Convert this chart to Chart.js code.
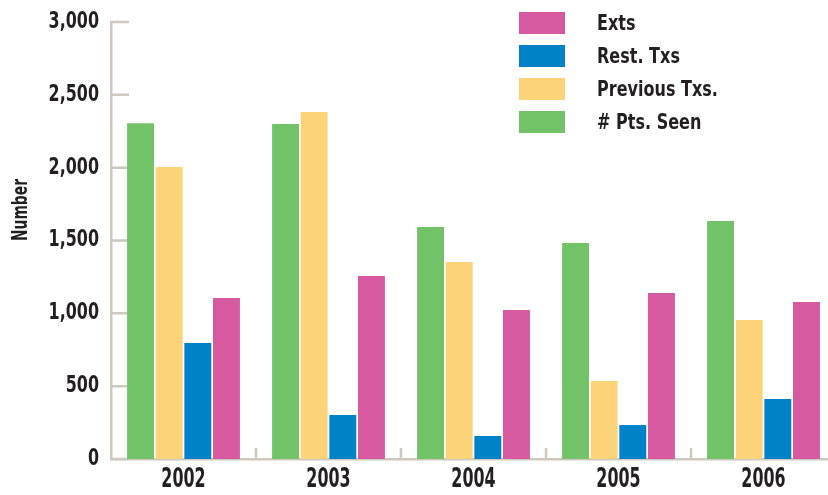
<!DOCTYPE html>
<html>
<head>
<meta charset="utf-8">
<script src="https://cdn.jsdelivr.net/npm/chart.js@4.4.1/dist/chart.umd.min.js"></script>
<style>
  html, body { margin: 0; padding: 0; background: #fff; overflow: hidden; }
  #wrap { width: 836px; height: 495px; }
</style>
</head>
<body>
<div id="wrap"><canvas id="chart" width="836" height="495"></canvas></div>
<script>
// data
const years = ["2002", "2003", "2004", "2005", "2006"];
const ptsSeen = [2305, 2300, 1593, 1483, 1634];
const previousTxs = [2005, 2382, 1352, 535, 954];
const restTxs = [796, 302, 158, 233, 412];
const exts = [1105, 1256, 1023, 1140, 1078];
const yTicks = [0, 500, 1000, 1500, 2000, 2500, 3000];

const FONT = "'DejaVu Sans Condensed', 'DejaVu Sans', sans-serif";
const INK = "#231f20";
const AXIS = "#cdc8c0";

// condensed bold text: squeeze horizontally around the anchor
function narrowText(ctx, text, x, y, size, sx, align) {
  ctx.save();
  ctx.font = "bold " + size + "px " + FONT;
  ctx.fillStyle = INK;
  ctx.textAlign = align;
  ctx.textBaseline = "middle";
  ctx.translate(x, y);
  ctx.scale(sx, 1);
  ctx.fillText(text, 0, 0);
  ctx.restore();
}

// little inward tick marks on both axes
const axisMarks = {
  id: "axisMarks",
  beforeDatasetsDraw(chart) {
    const { ctx, chartArea, scales } = chart;
    ctx.save();
    ctx.strokeStyle = AXIS;
    ctx.lineWidth = 2.5;
    ctx.beginPath();
    yTicks.forEach(v => {
      const y = scales.y.getPixelForValue(v);
      ctx.moveTo(chartArea.left, y);
      ctx.lineTo(chartArea.left + 18, y);
    });
    for (let i = 1; i < years.length; i++) {
      const x = (scales.x.getPixelForValue(i - 1) + scales.x.getPixelForValue(i)) / 2;
      ctx.moveTo(x, chartArea.bottom);
      ctx.lineTo(x, chartArea.bottom - 11);
    }
    ctx.stroke();
    ctx.restore();
  }
};

// tick labels, y title and the stacked legend at top right
const labels = {
  id: "labels",
  afterDraw(chart) {
    const { ctx, chartArea, scales } = chart;

    scales.y.ticks.forEach((t, i) => {
      const y = scales.y.getPixelForTick(i);
      narrowText(ctx, t.value.toLocaleString("en-US"), chartArea.left - 12, y, 23, 0.77, "right");
    });
    years.forEach((yr, i) => {
      narrowText(ctx, yr, scales.x.getPixelForValue(i), 480, 26, 0.68, "center");
    });

    ctx.save();
    ctx.translate(21, 210);
    ctx.rotate(-Math.PI / 2);
    narrowText(ctx, "Number", 0, 0, 22, 0.7, "center");
    ctx.restore();

    const sets = chart.data.datasets.slice().reverse();
    sets.forEach((ds, i) => {
      const top = 12 + i * 33;
      ctx.fillStyle = ds.backgroundColor;
      ctx.fillRect(519, top, 46, 22);
      narrowText(ctx, ds.label, 597, top + 12, 22, 0.81, "left");
    });
  }
};

new Chart(document.getElementById("chart"), {
  type: "bar",
  data: {
    labels: years,
    datasets: [
      { label: "# Pts. Seen", data: ptsSeen, backgroundColor: "#72c267" },
      { label: "Previous Txs.", data: previousTxs, backgroundColor: "#fdd37a" },
      { label: "Rest. Txs", data: restTxs, backgroundColor: "#0082c8" },
      { label: "Exts", data: exts, backgroundColor: "#d75aa0" }
    ]
  },
  options: {
    responsive: false,
    animation: false,
    layout: { padding: { top: 22, left: 0, right: 0, bottom: 0 } },
    datasets: { bar: { categoryPercentage: 0.79, barPercentage: 0.94 } },
    plugins: { legend: { display: false }, tooltip: { enabled: false } },
    scales: {
      x: {
        grid: { display: false, drawTicks: false },
        border: { color: AXIS, width: 2.5 },
        ticks: { display: false },
        afterFit(scale) { scale.height = 36; }
      },
      y: {
        min: 0,
        max: 3000,
        grid: { display: false, drawTicks: false },
        border: { color: AXIS, width: 2.5 },
        ticks: { display: false, stepSize: 500 },
        afterFit(scale) { scale.width = 111; }
      }
    }
  },
  plugins: [axisMarks, labels]
});
</script>
</body>
</html>
